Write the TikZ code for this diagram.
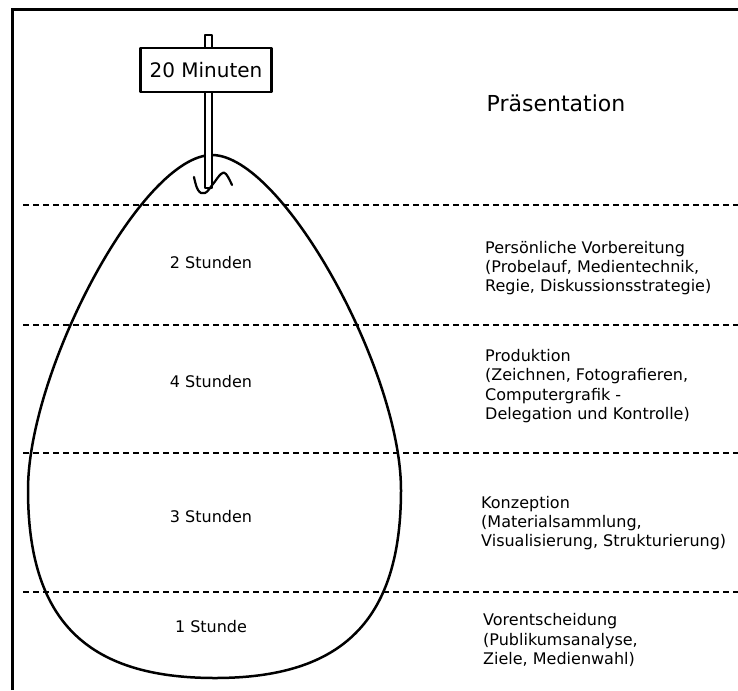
\documentclass[tikz,border=0pt]{standalone}
\usepackage{fontspec}
\setmainfont{DejaVu Sans}
\begin{document}
\begin{tikzpicture}[x=1pt, y=-1pt, line join=round, line cap=round,
	trenner/.style={line width=2.5pt, dash pattern=on 6pt off 4pt, line cap=butt},
	zeit/.style={font=\fontsize{16}{19.2}\selectfont, inner sep=0pt},
	phase/.style={font=\fontsize{16}{19.2}\selectfont, align=left, anchor=west, inner sep=0pt}]%Ei
	\useasboundingbox (0,0) rectangle (738,690);
	\path (212,155) coordinate (T) (401,490) coordinate (R) (215,678) coordinate (B) (28,490) coordinate (L);
	\draw[line width=3pt, line join=miter, line cap=butt] (12,690)--(12,9.5)--(738,9.5);
	\foreach \y in {205,325,453,592}
	\draw[trenner] (23,\y)--(738,\y);
	\draw[line width=2.5pt] (T) .. controls (282,155) and (401,370) .. (R) .. controls (401,620) and (343,678) .. (B) .. controls (86,678) and (28,620) .. (L) .. controls (28,370) and (142,155) .. (T) -- cycle;
	\draw[line width=1.8pt, fill=white] (205,35) rectangle (212,188);
	\draw[line width=2.2pt] plot[smooth, tension=0.7] coordinates {(194,177) (198,190) (205,193) (213,184) (221,174) (226,174) (232,185)};
	\node[draw, line width=2.2pt, fill=white, minimum width=131pt, minimum height=44pt, inner sep=0pt, font=\fontsize{20}{24}\selectfont] (schild) at (206,70) {20 Minuten};
	\node[font=\fontsize{22}{26}\selectfont] (praes) at (556,103) {Präsentation};
	\foreach \t/\y/\n in {2 Stunden/263/z2, 4 Stunden/382/z4, 3 Stunden/517/z3, 1 Stunde/627/z1}
	\node[zeit] (\n) at (211,\y) {\t};
	\node[phase] (vorb) at (485,268) {Persönliche Vorbereitung\\(Probelauf, Medientechnik,\\Regie, Diskussionsstrategie)};
	\node[phase] (prod) at (485,386) {Produktion\\(Zeichnen, Fotografieren,\\Computergrafik -\\Delegation und Kontrolle)};
	\node[phase] (konz) at (481,523) {Konzeption\\(Materialsammlung,\\Visualisierung, Strukturierung)};
	\node[phase] (vent) at (483,640) {Vorentscheidung\\(Publikumsanalyse,\\Ziele, Medienwahl)};
\end{tikzpicture}
\end{document}
